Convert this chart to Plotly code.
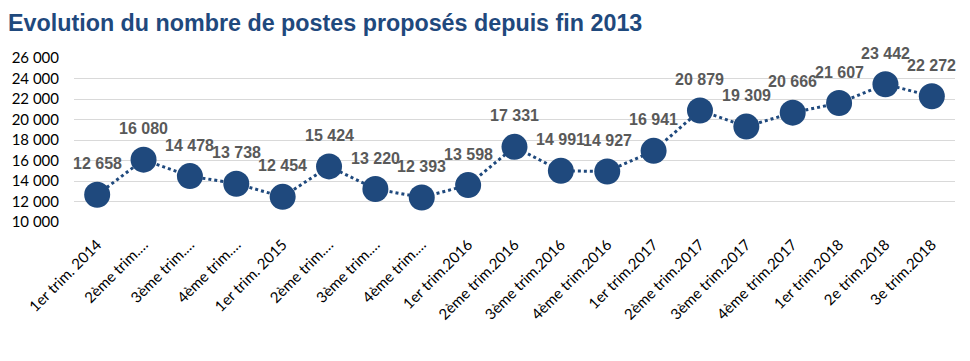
import plotly.graph_objects as go

categories = [
    "1er trim. 2014", "2ème trim.…", "3ème trim.…", "4ème trim.…",
    "1er trim. 2015", "2ème trim.…", "3ème trim.…", "4ème trim.…",
    "1er trim.2016", "2ème trim.2016", "3ème trim.2016", "4ème trim.2016",
    "1er trim.2017", "2ème trim.2017", "3ème trim.2017", "4ème trim.2017",
    "1er trim.2018", "2e trim.2018", "3e trim.2018",
]
values = [12658, 16080, 14478, 13738, 12454, 15424, 13220, 12393, 13598,
          17331, 14991, 14927, 16941, 20879, 19309, 20666, 21607, 23442, 22272]
y_ticks = list(range(10000, 26001, 2000))

def fmt(v):
    return f"{v:,}".replace(",", " ")

blue = "#1F497D"
xs = list(range(len(categories)))

fig = go.Figure()
fig.add_trace(go.Scatter(
    x=xs, y=values, mode="lines+markers",
    line=dict(color=blue, width=3, dash="dot"),
    marker=dict(color=blue, size=26),
    hoverinfo="skip",
))

for x, v in zip(xs, values):
    fig.add_annotation(x=x, y=v, text="<b>" + fmt(v) + "</b>", showarrow=False, yshift=31,
                       font=dict(family="Liberation Sans", size=16, color="#595959"),
                       xanchor="center", yanchor="middle")

fig.update_layout(
    width=970, height=361,
    margin=dict(l=72, r=15, t=58, b=139),
    paper_bgcolor="white", plot_bgcolor="white",
    showlegend=False,
    title=dict(text="<b>Evolution du nombre de postes proposés depuis fin 2013</b>",
               x=0, xanchor="left", y=0.96, yanchor="top", pad=dict(l=8),
               font=dict(family="Liberation Sans", size=23.3, color="#1F497D")),
)
fig.update_xaxes(tickmode="array", tickvals=xs, ticktext=categories,
                 tickangle=-45, showgrid=False, showline=False, zeroline=False,
                 ticks="", ticklabelstandoff=10,
                 tickfont=dict(family="Lato", size=15, color="#000000"),
                 range=[-0.5, len(categories) - 0.5])
fig.update_yaxes(range=[10000, 26000], tickvals=y_ticks,
                 ticktext=[fmt(t) for t in y_ticks], showgrid=True,
                 gridcolor="#D9D9D9", gridwidth=1, zeroline=False, showline=False,
                 ticks="", ticklabelstandoff=14,
                 tickfont=dict(family="Lato", size=15, color="#000000"))

fig.write_html("out.html", config={"displayModeBar": False},
               post_script="document.body.style.margin='0';document.body.style.overflow='hidden';")
